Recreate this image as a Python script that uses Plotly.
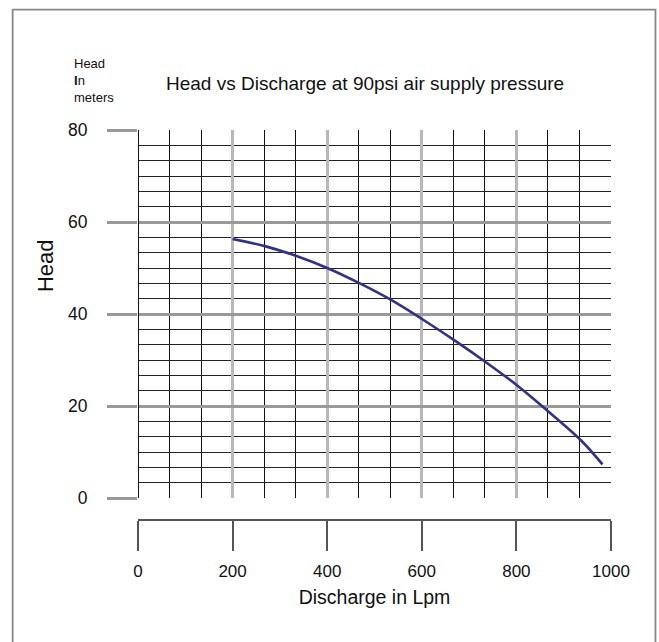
import plotly.graph_objects as go

# Data
discharge_lpm = [200, 270, 335, 400, 468, 536, 602, 670, 737, 805, 870, 938, 982]
head_m = [56.3, 54.7, 52.6, 50.0, 46.7, 43.0, 38.8, 34.2, 29.4, 24.2, 18.6, 12.4, 7.3]
x_ticks = [0, 200, 400, 600, 800, 1000]
y_ticks = [0, 20, 40, 60, 80]

FONT = "Liberation Sans, Arial, Helvetica, sans-serif"

fig = go.Figure()
fig.add_trace(go.Scatter(
    x=discharge_lpm, y=head_m, mode="lines",
    line=dict(color="#2e3192", width=2.6, shape="spline", smoothing=1.0),
    hoverinfo="skip", showlegend=False,
))

fig.update_layout(
    width=659, height=642,
    margin=dict(l=138, r=48, t=130, b=122),
    paper_bgcolor="white", plot_bgcolor="white",
    font=dict(family=FONT, color="#111"),
    showlegend=False,
    xaxis=dict(
        range=[0, 1000], tickvals=x_ticks, ticktext=[str(v) for v in x_ticks],
        anchor="free", position=0,
        showline=True, linecolor="#555", linewidth=1.5,
        ticks="outside", ticklen=30, tickwidth=1.5, tickcolor="#555",
        ticklabelstandoff=6,
        tickfont=dict(size=17, family=FONT, color="#111"),
        showgrid=True, gridcolor="#b8b8b8", gridwidth=2.5,
        minor=dict(dtick=1000 / 15, tick0=0, showgrid=True, gridcolor="#111", gridwidth=1, ticks=""),
        zeroline=True, zerolinecolor="#111", zerolinewidth=1,
        title=dict(text="Discharge in Lpm", font=dict(size=19.5, family=FONT, color="#111"), standoff=9),
        fixedrange=True,
    ),
    yaxis=dict(
        range=[0, 80], tickvals=y_ticks, ticktext=[str(v) for v in y_ticks],
        domain=[22 / 390, 1],
        showline=False,
        ticks="outside", ticklen=30, tickwidth=3, tickcolor="#999",
        ticklabelstandoff=16,
        tickfont=dict(size=17.5, family=FONT, color="#111"),
        showgrid=True, gridcolor="#999", gridwidth=3,
        minor=dict(dtick=20 / 6, tick0=0, showgrid=True, gridcolor="#222", gridwidth=1, ticks=""),
        zeroline=False,
        fixedrange=True,
    ),
    shapes=[dict(
        type="rect", xref="paper", yref="paper",
        x0=-0.265, x1=1.094, y0=-0.4, y1=1.3085,
        line=dict(color="#888", width=1.8), fillcolor="rgba(0,0,0,0)", layer="below",
    )],
    annotations=[
        dict(text="Head vs Discharge at 90psi air supply pressure", xref="paper", yref="paper",
             x=0.48, y=1.1205, xanchor="center", yanchor="middle", showarrow=False,
             font=dict(size=19, family=FONT, color="#111")),
        dict(text="Head<br><b>I</b>n<br>meters", xref="paper", yref="paper",
             x=-0.1395, y=1.196, xanchor="left", yanchor="top", align="left", showarrow=False,
             font=dict(size=13, family=FONT, color="#111")),
        dict(text="Head", xref="paper", yref="paper", textangle=-90,
             x=-0.1966, y=0.651, xanchor="center", yanchor="middle", showarrow=False,
             font=dict(size=22, family=FONT, color="#111")),
    ],
)

fig.write_html("out.html", config={"displayModeBar": False},
               post_script="document.body.style.margin='0px';")
